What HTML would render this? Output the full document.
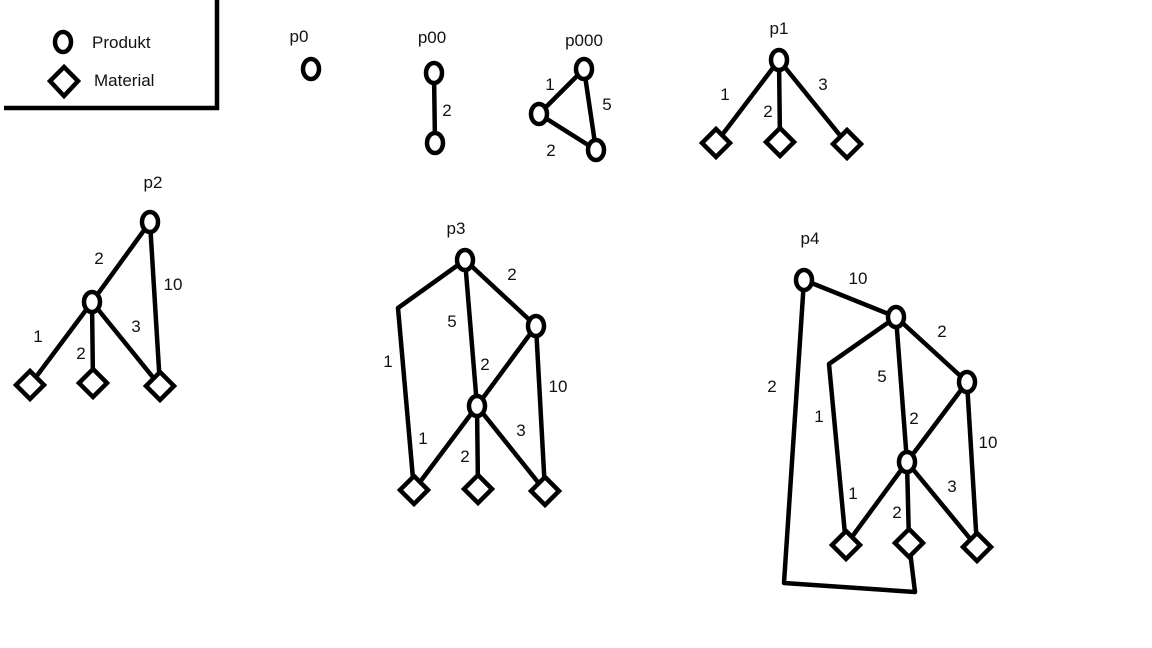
<!DOCTYPE html>
<html><head><meta charset="utf-8"><style>
html,body{margin:0;padding:0;background:#fff;}
svg{display:block;}
text{font-family:"Liberation Sans",sans-serif;font-size:17px;fill:#111;text-anchor:middle;}
.e{stroke:#000;stroke-width:4.5;fill:none;stroke-linejoin:round;}
.n{stroke:#000;stroke-width:4.5;fill:#fff;}
</style></head><body>
<svg width="1152" height="648" viewBox="0 0 1152 648">
<g>
<path class="e" d="M217,0 L217,110 M4,108 L219,108"/>
<ellipse class="n" cx="63" cy="42" rx="8" ry="10"/>
<path class="n" d="M64,67 L78,81 L64,96 L50,81 Z"/>
<text x="92" y="48" style="text-anchor:start">Produkt</text>
<text x="94" y="86" style="text-anchor:start">Material</text>
</g>
<g>
<text x="299" y="42">p0</text>
<ellipse class="n" cx="311" cy="69" rx="8" ry="10"/>
</g>
<g>
<text x="432" y="43">p00</text>
<path class="e" d="M434,73 L435,143"/>
<ellipse class="n" cx="434" cy="73" rx="8" ry="10"/>
<ellipse class="n" cx="435" cy="143" rx="8" ry="10"/>
<text x="447" y="116">2</text>
</g>
<g>
<text x="584" y="46">p000</text>
<path class="e" d="M584,69 L539,114 L596,150 Z"/>
<ellipse class="n" cx="584" cy="69" rx="8" ry="10"/>
<ellipse class="n" cx="539" cy="114" rx="8" ry="10"/>
<ellipse class="n" cx="596" cy="150" rx="8" ry="10"/>
<text x="550" y="90">1</text><text x="607" y="110">5</text><text x="551" y="156">2</text>
</g>
<g>
<text x="779" y="34">p1</text>
<path class="e" d="M779,60 L716,143 M779,60 L780,142 M779,60 L847,144"/>
<ellipse class="n" cx="779" cy="60" rx="8" ry="10"/>
<path class="n" d="M716,129 L730,143 L716,157 L702,143 Z"/>
<path class="n" d="M780,128 L794,142 L780,156 L766,142 Z"/>
<path class="n" d="M847,130 L861,144 L847,158 L833,144 Z"/>
<text x="725" y="100">1</text><text x="768" y="117">2</text><text x="823" y="90">3</text>
</g>
<g>
<text x="153" y="188">p2</text>
<path class="e" d="M150,222 L92,302 M150,222 L160,386 M92,302 L30,385 M92,302 L93,383 M92,302 L160,386"/>
<ellipse class="n" cx="150" cy="222" rx="8" ry="10"/>
<ellipse class="n" cx="92" cy="302" rx="8" ry="10"/>
<path class="n" d="M30,371 L44,385 L30,399 L16,385 Z"/>
<path class="n" d="M93,369 L107,383 L93,397 L79,383 Z"/>
<path class="n" d="M160,372 L174,386 L160,400 L146,386 Z"/>
<text x="99" y="264">2</text><text x="173" y="290">10</text><text x="38" y="342">1</text><text x="81" y="359">2</text><text x="136" y="332">3</text>
</g>
<g>
<text x="456" y="234">p3</text>
<path class="e" d="M465,260 L398,308 L414,490 M465,260 L477,406 M465,260 L536,326 L477,406 M536,326 L545,491 M477,406 L414,490 M477,406 L478,489 M477,406 L545,491"/>
<ellipse class="n" cx="465" cy="260" rx="8" ry="10"/>
<ellipse class="n" cx="536" cy="326" rx="8" ry="10"/>
<ellipse class="n" cx="477" cy="406" rx="8" ry="10"/>
<path class="n" d="M414,476 L428,490 L414,504 L400,490 Z"/>
<path class="n" d="M478,475 L492,489 L478,503 L464,489 Z"/>
<path class="n" d="M545,477 L559,491 L545,505 L531,491 Z"/>
<text x="388" y="367">1</text><text x="452" y="327">5</text><text x="512" y="280">2</text><text x="485" y="370">2</text><text x="558" y="392">10</text><text x="423" y="444">1</text><text x="465" y="462">2</text><text x="521" y="436">3</text>
</g>
<g>
<text x="810" y="244">p4</text>
<path class="e" d="M804,280 L896,317 M804,280 L784,583 L915,592 L909,543 M896,317 L829,364 L846,545 M896,317 L907,462 M896,317 L967,382 L907,462 M967,382 L977,547 M907,462 L846,545 M907,462 L909,543 M907,462 L977,547"/>
<ellipse class="n" cx="804" cy="280" rx="8" ry="10"/>
<ellipse class="n" cx="896" cy="317" rx="8" ry="10"/>
<ellipse class="n" cx="967" cy="382" rx="8" ry="10"/>
<ellipse class="n" cx="907" cy="462" rx="8" ry="10"/>
<path class="n" d="M846,531 L860,545 L846,559 L832,545 Z"/>
<path class="n" d="M909,529 L923,543 L909,557 L895,543 Z"/>
<path class="n" d="M977,533 L991,547 L977,561 L963,547 Z"/>
<text x="858" y="284">10</text><text x="942" y="337">2</text><text x="882" y="382">5</text><text x="819" y="422">1</text><text x="772" y="392">2</text><text x="914" y="424">2</text><text x="988" y="448">10</text><text x="853" y="499">1</text><text x="897" y="518">2</text><text x="952" y="492">3</text>
</g>
</svg>
</body></html>
